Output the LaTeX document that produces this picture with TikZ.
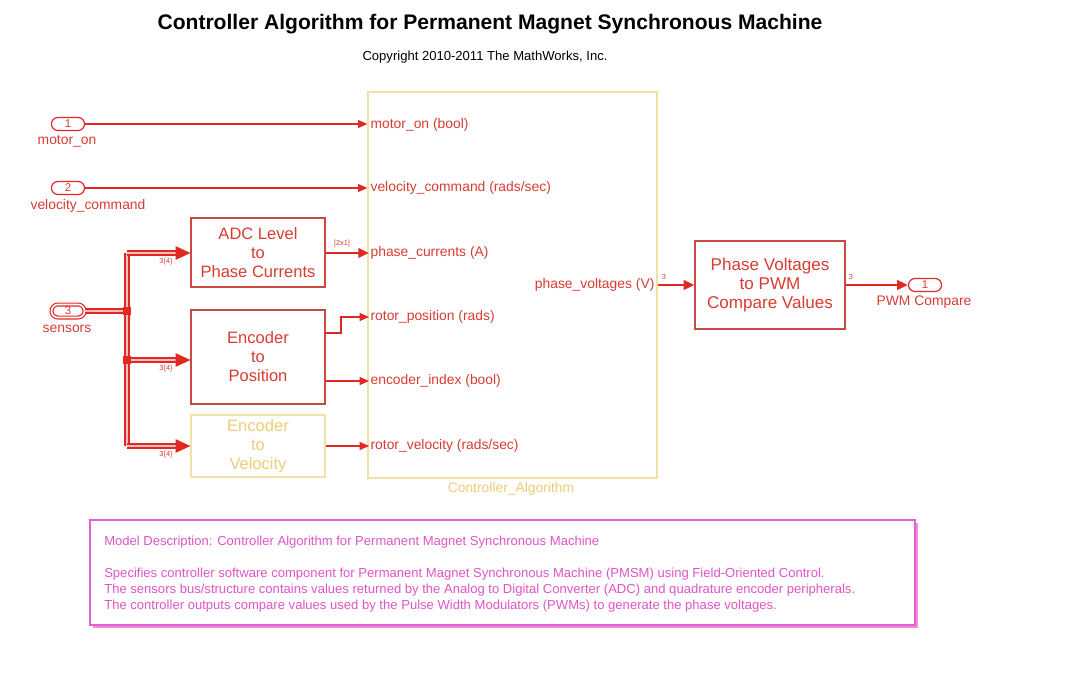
\documentclass[tikz,border=0pt]{standalone}
\usepackage{fontspec}
\setmainfont{Liberation Sans}
\usetikzlibrary{arrows.meta,shadows}
\definecolor{simred}{RGB}{225,40,35}
\definecolor{blockred}{RGB}{200,75,65}
\definecolor{txtred}{RGB}{215,60,50}
\definecolor{subylw}{RGB}{240,225,165}
\definecolor{txtylw}{RGB}{235,205,120}
\definecolor{notemag}{RGB}{232,95,212}
\definecolor{notetxt}{RGB}{222,85,200}
\definecolor{noteshd}{RGB}{240,140,225}
\begin{document}
\begin{tikzpicture}[x=0.75pt,y=-0.75pt,
		sig/.style={draw=simred, line width=0.9pt, -{Triangle[length=7pt,width=6pt]}},
		wide/.style={draw=simred, line width=2pt, -{Triangle[length=8pt,width=7pt]}},
		busline/.style={draw=simred, double=simred!30, double distance=1.4pt, line width=1.5pt},
		bustip/.style={draw=simred, line width=1pt, -{Triangle[length=11pt,width=10pt]}},
		block/.style={draw=blockred, line width=0.9pt, text=txtred, align=center,
			font=\fontsize{12.4}{14.25}\selectfont, minimum width=100.5pt, inner sep=0pt},
		inport/.style={draw=simred, line width=0.9pt, rounded corners=4.8pt, text=txtred,
			minimum width=24.75pt, minimum height=9.75pt, inner sep=0pt,
			font=\fontsize{8.5}{8.5}\selectfont},
		portname/.style={text=txtred, font=\fontsize{10.4}{12}\selectfont, inner sep=1pt},
		dim/.style={text=txtred, font=\fontsize{5.5}{6}\selectfont, inner sep=0pt},
		every node/.append style={font=\fontsize{10.4}{12}\selectfont}
	]
	\useasboundingbox (0,0) rectangle (1080,672);
	
	% Title
	\node (title) at (490,24) {\fontsize{15.8}{18}\selectfont\bfseries Controller Algorithm for Permanent Magnet Synchronous Machine};
	\node (copy) at (485,57) {\fontsize{9.8}{11}\selectfont Copyright 2010-2011 The MathWorks, Inc.};
	
	% Inports
	\node[inport] (in1) at (68,124) {1};
	\node[portname] (in1lbl) at (67,141) {motor\_on};
	\node[inport] (in2) at (68,188) {2};
	\node[portname] (in2lbl) at (88,206) {velocity\_command};
	\node[inport, double, double distance=1.2pt] (in3) at (68,311) {3};
	\node[portname] (in3lbl) at (67,329) {sensors};
	
	% Controller subsystem
	\node[draw=subylw, line width=1pt, minimum width=216.75pt, minimum height=289.5pt, inner sep=0pt] (ctrl) at (512.5,285) {};
	\node[text=txtylw] (ctrllbl) at (511,489) {Controller\_Algorithm};
	\node[portname, anchor=west] (pmotor) at (369,125) {motor\_on (bool)};
	\node[portname, anchor=west] (pvel) at (369,188) {velocity\_command (rads/sec)};
	\node[portname, anchor=west] (pcur) at (369,253) {phase\_currents (A)};
	\node[portname, anchor=west] (ppos) at (369,317) {rotor\_position (rads)};
	\node[portname, anchor=west] (pidx) at (369,381) {encoder\_index (bool)};
	\node[portname, anchor=west] (prvel) at (369,446) {rotor\_velocity (rads/sec)};
	\node[portname, anchor=east] (pvolt) at (656,285) {phase\_voltages (V)};
	
	% Sensor blocks
	\node[block, minimum height=51.75pt] (adc) at (258,252.5) {ADC Level\\to\\Phase Currents};
	\node[block, minimum height=70.5pt] (pos) at (258,357) {Encoder\\to\\Position};
	\node[block, draw=subylw, text=txtylw, minimum height=46.5pt] (velo) at (258,446) {Encoder\\to\\Velocity};
	
	% PWM block and outport
	\node[block, minimum width=112.5pt, minimum height=66pt, font=\fontsize{12.8}{14.25}\selectfont] (pwm) at (770,285) {Phase Voltages\\to PWM\\Compare Values};
	\node[inport] (out1) at (925,285) {1};
	\node[portname] (out1lbl) at (924,302) {PWM Compare};
	
	% Wires from inports
	\draw[sig] (in1.east) -- (in1.east -| ctrl.west);
	\draw[sig] (in2.east) -- (in2.east -| ctrl.west);
	
	% Sensors bus
	\coordinate (jtop) at (127,253);
	\coordinate (jin) at (127,311);
	\coordinate (jmid) at (127,360);
	\coordinate (jbot) at (127,446);
	\draw[busline] (in3.east) -- (jin);
	\draw[busline] (jtop) -- (jbot);
	\draw[busline] (jtop) -- ([xshift=-9pt]jtop -| adc.west);
	\draw[busline] (jmid) -- ([xshift=-9pt]jmid -| pos.west);
	\draw[busline] (jbot) -- ([xshift=-9pt]jbot -| velo.west);
	\draw[bustip] ([xshift=-10pt]jtop -| adc.west) -- (jtop -| adc.west);
	\draw[bustip] ([xshift=-10pt]jmid -| pos.west) -- (jmid -| pos.west);
	\draw[bustip] ([xshift=-10pt]jbot -| velo.west) -- (jbot -| velo.west);
	\fill[simred] ([xshift=-3pt,yshift=-3pt]jin) rectangle ([xshift=3pt,yshift=3pt]jin);
	\fill[simred] ([xshift=-3pt,yshift=-3pt]jmid) rectangle ([xshift=3pt,yshift=3pt]jmid);
	\node[dim] (w1) at (166,262) {3\{4\}};
	\node[dim] (w2) at (166,369) {3\{4\}};
	\node[dim] (w3) at (166,455) {3\{4\}};
	
	% Block outputs
	\draw[wide] (adc.east |- pcur.west) -- (pcur.west);
	\node[dim] (w4) at (342,244) {[2x1]};
	\coordinate (posout) at (325,333);
	\draw[sig] (posout) -- ++(16,0) |- (ppos.west);
	\draw[sig] (pos.east |- pidx.west) -- (pidx.west);
	\draw[sig] (velo.east) -- (prvel.west);
	\draw[wide] (ctrl.east |- pwm.west) -- (pwm.west);
	\node[dim] (w5) at (664,277) {3};
	\draw[wide] (pwm.east) -- (out1.west);
	\node[dim] (w6) at (851,277) {3};
	
	% Model description
	\node[draw=notemag, line width=1.2pt, fill=white, minimum width=618.75pt, minimum height=78.75pt,
		drop shadow={shadow xshift=2.5pt, shadow yshift=-2.5pt, fill=noteshd, opacity=1}] (desc) at (502.5,572.5) {};
	\node[anchor=north west, text=notetxt, align=left, inner sep=0pt,
		font=\fontsize{9.8}{12}\selectfont] (desctxt) at (104,536) {Model Description: Controller Algorithm for Permanent Magnet Synchronous Machine\\[12pt]
		Specifies controller software component for Permanent Magnet Synchronous Machine (PMSM) using Field-Oriented Control.\\
		The sensors bus/structure contains values returned by the Analog to Digital Converter (ADC) and quadrature encoder peripherals.\\
		The controller outputs compare values used by the Pulse Width Modulators (PWMs) to generate the phase voltages.};
	
\end{tikzpicture}
\end{document}
